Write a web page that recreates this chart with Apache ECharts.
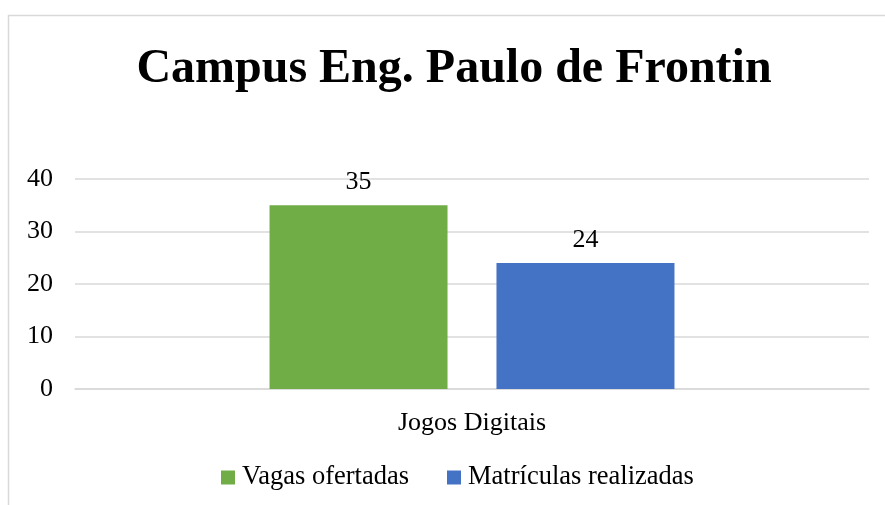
<!DOCTYPE html>
<html>
  <head>
    <meta charset="UTF-8">
    <title>Campus Eng. Paulo de Frontin</title>
    <script src="https://cdn.jsdelivr.net/npm/echarts@6/dist/echarts.min.js"></script>
    <style>
      html, body { margin: 0; padding: 0; background: #fff; }
      #chart { width: 885px; height: 505px; }
    </style>
  </head>
  <body>
    <div id="chart"></div>
    <script type="text/javascript">
      var categories = ['Jogos Digitais'];
      var vagas = [35];
      var matriculas = [24];
      var yTicks = [0, 10, 20, 30, 40];

      var serif = '"Liberation Serif", "Times New Roman", serif';
      var chart = echarts.init(document.getElementById('chart'));

      chart.setOption({
        animation: false,
        textStyle: { fontFamily: serif },
        graphic: [{
          type: 'rect',
          shape: { x: 8.5, y: 15.5, width: 900, height: 600 },
          style: { fill: 'none', stroke: '#d9d9d9', lineWidth: 1.5 },
          silent: true
        }],
        title: {
          text: 'Campus Eng. Paulo de Frontin',
          left: 449, top: 41, textAlign: 'center',
          textStyle: { fontFamily: serif, fontSize: 48, fontWeight: 'bold', color: '#000' }
        },
        legend: {
          bottom: 14, left: 221, padding: 0,
          itemWidth: 14, itemHeight: 14, itemGap: 38,
          icon: 'rect',
          textStyle: { fontFamily: serif, fontSize: 26.5, color: '#000', padding: [0, 0, 0, 2] }
        },
        grid: { left: 75, right: 16, top: 179, bottom: 116 },
        xAxis: {
          type: 'category',
          data: categories,
          axisLine: { show: true, lineStyle: { color: '#d9d9d9', width: 1.5 } },
          axisTick: { show: false },
          axisLabel: { fontFamily: serif, fontSize: 26, color: '#000', margin: 21 }
        },
        yAxis: {
          type: 'value',
          min: yTicks[0], max: yTicks[yTicks.length - 1], interval: 10,
          axisLine: { show: false },
          axisTick: { show: false },
          splitLine: { lineStyle: { color: '#d9d9d9', width: 1.5 } },
          axisLabel: { fontFamily: serif, fontSize: 26, color: '#000', margin: 22 }
        },
        series: [
          {
            name: 'Vagas ofertadas', type: 'bar', data: vagas,
            barWidth: 178, barGap: '27.5%',
            itemStyle: { color: '#70ad47' },
            label: { show: true, position: 'top', distance: 10, fontFamily: serif, fontSize: 26, color: '#000' }
          },
          {
            name: 'Matrículas realizadas', type: 'bar', data: matriculas,
            barWidth: 178,
            itemStyle: { color: '#4472c4' },
            label: { show: true, position: 'top', distance: 10, fontFamily: serif, fontSize: 26, color: '#000' }
          }
        ]
      });
    </script>
  </body>
</html>
